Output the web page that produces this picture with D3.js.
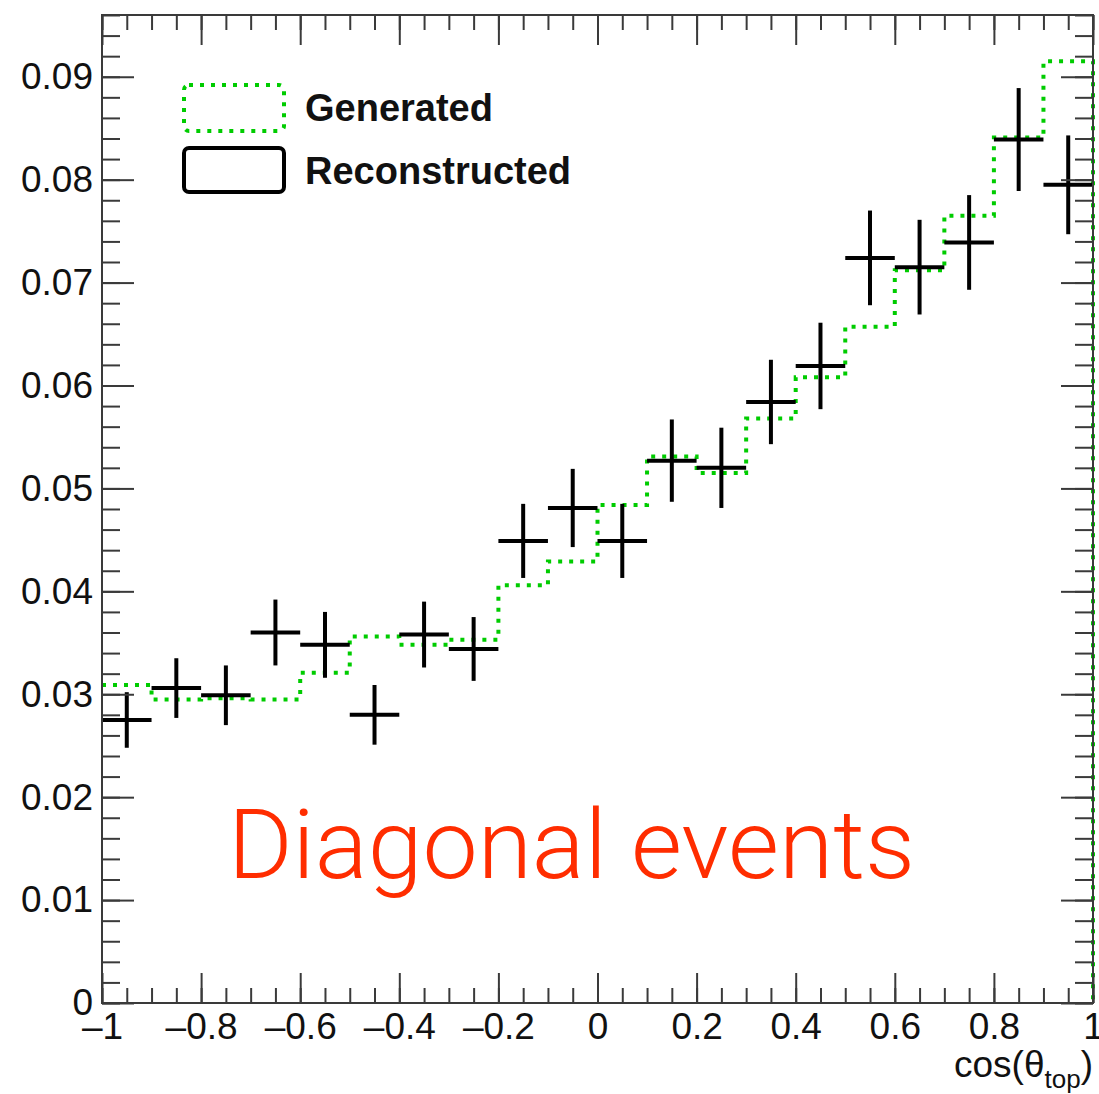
<!DOCTYPE html>
<html>
<head>
<meta charset="utf-8">
<script src="https://cdn.jsdelivr.net/npm/d3@7"></script>
<style>
  body { margin: 0; background: #fff; }
  text { font-family: "Liberation Sans", Arial, Helvetica, sans-serif; }
</style>
</head>
<body>
<div id="chart"></div>
<script>
// bin edges of cos(theta_top), 20 bins of 0.1
const binEdges = d3.range(21).map(i => -1 + i * 0.1);

// generated distribution (green dotted histogram)
const generated = [0.0309, 0.0295, 0.0296, 0.0295, 0.0321, 0.0356, 0.0348, 0.0353, 0.0406, 0.0429,
                   0.0484, 0.0531, 0.0515, 0.0568, 0.0608, 0.0657, 0.0712, 0.0765, 0.0841, 0.0915];

// reconstructed points and their errors
const reconstructed = [0.0275, 0.0306, 0.0299, 0.0360, 0.0348, 0.0280, 0.0358, 0.0344, 0.0449, 0.0481,
                       0.0449, 0.0527, 0.0520, 0.0584, 0.0619, 0.0724, 0.0715, 0.0739, 0.0839, 0.0795];
const recoErrors = [0.0027, 0.0029, 0.0029, 0.0032, 0.0032, 0.0029, 0.0032, 0.0031, 0.0036, 0.0038,
                    0.0036, 0.0040, 0.0039, 0.0041, 0.0042, 0.0046, 0.0046, 0.0046, 0.0050, 0.0048];

const xDomain = [-1, 1];
const yDomain = [0, 0.096];
const legendLabels = ["Generated", "Reconstructed"];
const annotation = "Diagonal events";

const W = 1099, H = 1094;
const margin = {left: 102, right: 6, top: 15, bottom: 91};
const green = "#00cc00";

const svg = d3.select("#chart").append("svg")
  .attr("width", W).attr("height", H);

const x = d3.scaleLinear().domain(xDomain).range([margin.left, W - margin.right]);
const y = d3.scaleLinear().domain(yDomain).range([H - margin.bottom, margin.top]);

// generated histogram as a step outline
const steps = [];
generated.forEach((v, i) => {
  steps.push([binEdges[i], v]);
  steps.push([binEdges[i + 1], v]);
});
steps.push([binEdges[20], 0]);

svg.append("path")
  .datum(steps)
  .attr("fill", "none")
  .attr("stroke", green)
  .attr("stroke-width", 4)
  .attr("stroke-dasharray", "4,7")
  .attr("d", d3.line().x(d => x(d[0])).y(d => y(d[1])));

// reconstructed crosses
const pts = svg.append("g").attr("stroke", "#000").attr("stroke-width", 4);
reconstructed.forEach((v, i) => {
  const c = (binEdges[i] + binEdges[i + 1]) / 2;
  pts.append("line")
    .attr("x1", x(binEdges[i])).attr("x2", x(binEdges[i + 1]))
    .attr("y1", y(v)).attr("y2", y(v));
  pts.append("line")
    .attr("x1", x(c)).attr("x2", x(c))
    .attr("y1", y(v - recoErrors[i])).attr("y2", y(v + recoErrors[i]));
});

// axes: ticks inside the frame on all four sides
function styleAxis(g) {
  g.select(".domain").remove();
  g.selectAll("line").attr("stroke", "#3a3a3a").attr("stroke-width", 2);
  g.selectAll("text").attr("fill", "#111").style("font-size", "37px");
}

const yMajor = y.ticks(10), yMinor = y.ticks(48);
const xMajor = x.ticks(10), xMinor = x.ticks(40);

svg.append("g").attr("transform", `translate(${margin.left},0)`)
  .call(d3.axisLeft(y).tickValues(yMinor).tickSize(-18).tickFormat(""))
  .call(styleAxis);
svg.append("g").attr("transform", `translate(${margin.left},0)`)
  .call(d3.axisLeft(y).tickValues(yMajor).tickSize(-32).tickPadding(9)
        .tickFormat(d => d === 0 ? "0" : d3.format(".2f")(d)))
  .call(styleAxis);
svg.append("g").attr("transform", `translate(${W - margin.right},0)`)
  .call(d3.axisRight(y).tickValues(yMinor).tickSize(-18).tickFormat(""))
  .call(styleAxis);
svg.append("g").attr("transform", `translate(${W - margin.right},0)`)
  .call(d3.axisRight(y).tickValues(yMajor).tickSize(-32).tickFormat(""))
  .call(styleAxis);

const fmtX = d => {
  const s = d === 0 ? "0" : (Math.abs(d) === 1 ? String(Math.abs(d)) : d3.format(".1f")(Math.abs(d)));
  return d < 0 ? "\u2013" + s : s;
};
svg.append("g").attr("transform", `translate(0,${H - margin.bottom})`)
  .call(d3.axisBottom(x).tickValues(xMinor).tickSize(-15).tickFormat(""))
  .call(styleAxis);
svg.append("g").attr("transform", `translate(0,${H - margin.bottom})`)
  .call(d3.axisBottom(x).tickValues(xMajor).tickSize(-30).tickPadding(10).tickFormat(fmtX))
  .call(styleAxis);
svg.append("g").attr("transform", `translate(0,${margin.top})`)
  .call(d3.axisTop(x).tickValues(xMinor).tickSize(-15).tickFormat(""))
  .call(styleAxis);
svg.append("g").attr("transform", `translate(0,${margin.top})`)
  .call(d3.axisTop(x).tickValues(xMajor).tickSize(-30).tickFormat(""))
  .call(styleAxis);

// frame
svg.append("rect")
  .attr("x", margin.left).attr("y", margin.top)
  .attr("width", W - margin.right - margin.left)
  .attr("height", H - margin.bottom - margin.top)
  .attr("fill", "none").attr("stroke", "#3a3a3a").attr("stroke-width", 2);

// x axis title
const title = svg.append("text")
  .attr("x", W - margin.right).attr("y", 1077)
  .attr("text-anchor", "end")
  .style("font-size", "37px").attr("fill", "#111");
title.append("tspan").text("cos(\u03b8");
title.append("tspan").attr("dy", 11).style("font-size", "26px").text("top");
title.append("tspan").attr("dy", -11).text(")");

// legend
const legend = svg.append("g");
legendLabels.forEach((lab, i) => {
  const top = [85, 148][i];
  legend.append("rect")
    .attr("x", 184).attr("y", top).attr("width", 100).attr("height", i === 0 ? 46 : 44)
    .attr("rx", 5)
    .attr("fill", "none")
    .attr("stroke", i === 0 ? green : "#000")
    .attr("stroke-width", 4)
    .attr("stroke-dasharray", i === 0 ? "4,7" : null);
  legend.append("text")
    .attr("x", 305).attr("y", [121, 184][i])
    .style("font-size", "38px").style("font-weight", "bold")
    .attr("fill", "#111")
    .text(lab);
});

// annotation
svg.append("text")
  .attr("x", 228).attr("y", 878)
  .attr("textLength", 687).attr("lengthAdjust", "spacingAndGlyphs")
  .style("font-family", "Roboto, 'Liberation Sans', sans-serif")
  .style("font-weight", 300)
  .style("font-size", "96px")
  .attr("fill", "#ff2d00")
  .text(annotation);
</script>
</body>
</html>
